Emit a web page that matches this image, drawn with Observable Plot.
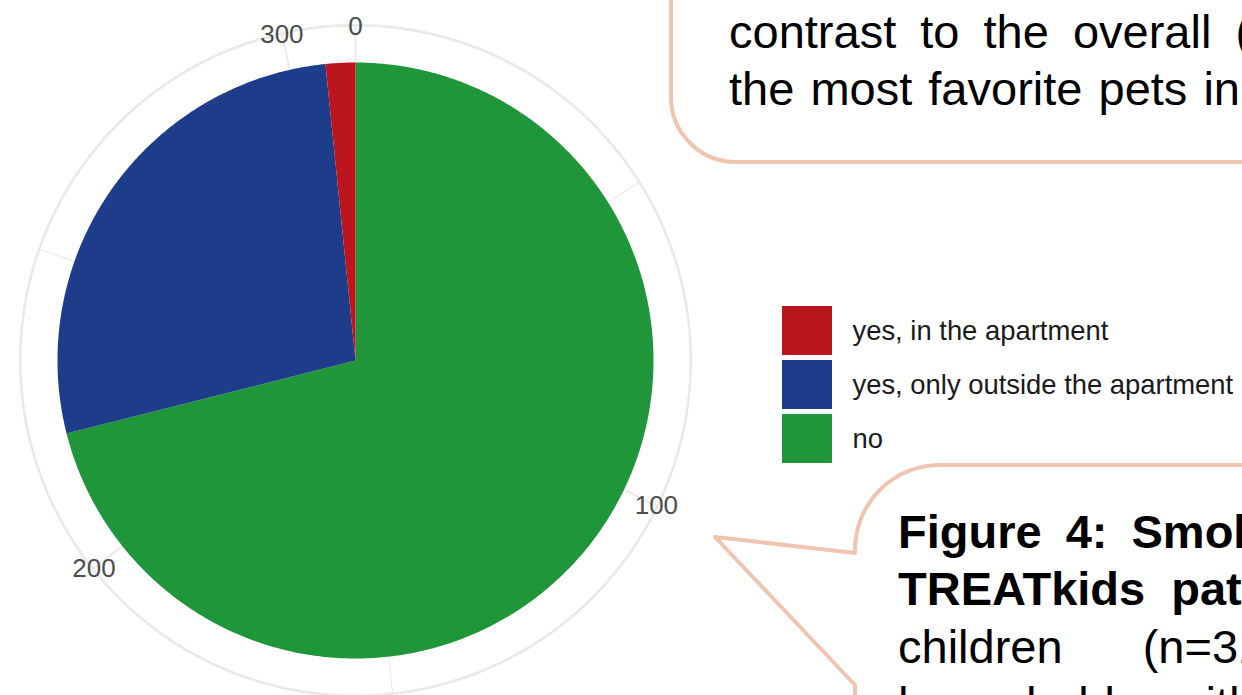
<!DOCTYPE html>
<html><head><meta charset="utf-8">
<script src="https://cdn.jsdelivr.net/npm/d3@7"></script>
<script src="https://cdn.jsdelivr.net/npm/@observablehq/plot@0.6"></script>
<style>
html,body{margin:0;padding:0;background:#fff;overflow:hidden;width:1242px;height:695px}
#wrap{position:relative;width:1242px;height:695px;overflow:hidden;font-family:"Liberation Sans",Arial,sans-serif}
#wrap > *{position:absolute}
</style></head><body><div id="wrap"></div>
<script>
// ---- data ----
const categories = ["yes, in the apartment", "yes, only outside the apartment", "no"];
const counts = [5, 85, 221];
const colors = ["#bb151e", "#1d3c8a", "#1f963a"];
const thetaTicks = [0, 100, 200, 300];
const thetaMinor = [50, 150, 250];
const topBubbleLines = ["contrast to the overall (", "the most favorite pets in"];
const bottomBubbleLines = ["Figure 4: Smoking in", "TREATkids patients'", "children (n=311)", "households with"];

// ---- layout ----
const W = 1242, H = 695, R = 298, cx = 355, cy = 360;
const ringR = 1.125, labelR = 1.121;
const total = d3.sum(counts);
const ang = v => v / total * 2 * Math.PI;

// stack clockwise from 0: last category first (ggplot order)
const order = d3.range(categories.length).reverse();
let acc = 0;
const slices = order.map(i => { const s = {cat: categories[i], v0: acc, v1: acc + counts[i]}; acc += counts[i]; return s; });
function slicePoints(s) {
  const pts = [{x: 0, y: 0}];
  const a0 = ang(s.v0), a1 = ang(s.v1);
  const n = Math.max(2, Math.ceil((a1 - a0) / (Math.PI / 360)));
  for (let k = 0; k <= n; k++) { const a = a0 + (a1 - a0) * k / n; pts.push({x: Math.sin(a), y: Math.cos(a)}); }
  pts.push({x: 0, y: 0});
  return pts;
}
const ring = d3.range(0, 361, 1).map(d => ({x: ringR * Math.sin(d * Math.PI / 180), y: ringR * Math.cos(d * Math.PI / 180)}));
const colorOf = c => colors[categories.indexOf(c)];

const chart = Plot.plot({
  width: W, height: H, margin: 0,
  x: {domain: [-cx / R, (W - cx) / R], axis: null},
  y: {domain: [-(H - cy) / R, cy / R], axis: null},
  marks: [
    Plot.link(thetaMinor, {x1: () => 0, y1: () => 0, x2: d => ringR * Math.sin(ang(d)), y2: d => ringR * Math.cos(ang(d)), stroke: "#ebebeb", strokeWidth: 1.2}),
    Plot.link(thetaTicks, {x1: () => 0, y1: () => 0, x2: d => ringR * Math.sin(ang(d)), y2: d => ringR * Math.cos(ang(d)), stroke: "#ebebeb", strokeWidth: 2}),
    Plot.line(ring, {x: "x", y: "y", stroke: "#e9e9e9", strokeWidth: 2.6}),
    ...slices.map(s => Plot.line(slicePoints(s), {x: "x", y: "y", fill: colorOf(s.cat), stroke: "none"})),
    Plot.text(thetaTicks, {x: d => labelR * Math.sin(ang(d)), y: d => labelR * Math.cos(ang(d)), text: d => String(d), fontSize: 26, fill: "#4d4d4d", fontFamily: "Liberation Sans, Arial, sans-serif"})
  ]
});
const wrap = document.getElementById("wrap");
chart.style.left = "0px"; chart.style.top = "0px";
wrap.appendChild(chart);

// ---- legend ----
const legend = Plot.plot({
  width: 460, height: 158, margin: 0,
  x: {type: "band", domain: ["k"], range: [0, 50], padding: 0, axis: null},
  y: {type: "band", domain: categories, range: [0, 158], paddingInner: 0.085, paddingOuter: 0, axis: null},
  color: {domain: categories, range: colors},
  marks: [
    Plot.cell(categories, {x: () => "k", y: d => d, fill: d => d, inset: 0}),
    Plot.text(categories, {x: () => "k", y: d => d, text: d => d, dx: 45, textAnchor: "start", fontSize: 27.4, fill: "#1a1a1a", fontFamily: "Liberation Sans, Arial, sans-serif"})
  ]
});
legend.style.left = "782px"; legend.style.top = "306px";
wrap.appendChild(legend);

// ---- speech bubbles ----
const ov = d3.select(wrap).append("svg").attr("width", W).attr("height", H).style("left", "0px").style("top", "0px");
const bubbleStyle = sel => sel.attr("fill", "#fff").attr("stroke", "#efc5b2").attr("stroke-width", 4).attr("stroke-linejoin", "round");
ov.append("path").attr("d", "M671,-20 L671,97 A65,65 0 0 0 736,162 L1270,162 L1270,-20 Z").call(bubbleStyle);
ov.append("path").attr("d", "M1270,465 L940,465 A85,85 0 0 0 855,550 L855,553 L715,537 L855,685 L855,720 L1270,720 Z").call(bubbleStyle);
const tf = "Liberation Sans, Arial, sans-serif";
const topSpec = [{y: 48, ws: 11}, {y: 105, ws: 3}];
topBubbleLines.forEach((t, i) => ov.append("text").attr("x", 729).attr("y", topSpec[i].y).attr("font-family", tf).attr("font-size", 47).attr("word-spacing", topSpec[i].ws).attr("fill", "#000").text(t));
const botSpec = [{y: 548, ws: 11, b: true}, {y: 605, ws: 13, b: true}, {y: 663, ws: 67, b: false}, {y: 720, ws: 20, b: false}];
bottomBubbleLines.forEach((t, i) => ov.append("text").attr("x", 898).attr("y", botSpec[i].y).attr("font-family", tf).attr("font-size", 47).attr("font-weight", botSpec[i].b ? "bold" : "normal").attr("word-spacing", botSpec[i].ws).attr("fill", "#000").text(t));
</script></body></html>
